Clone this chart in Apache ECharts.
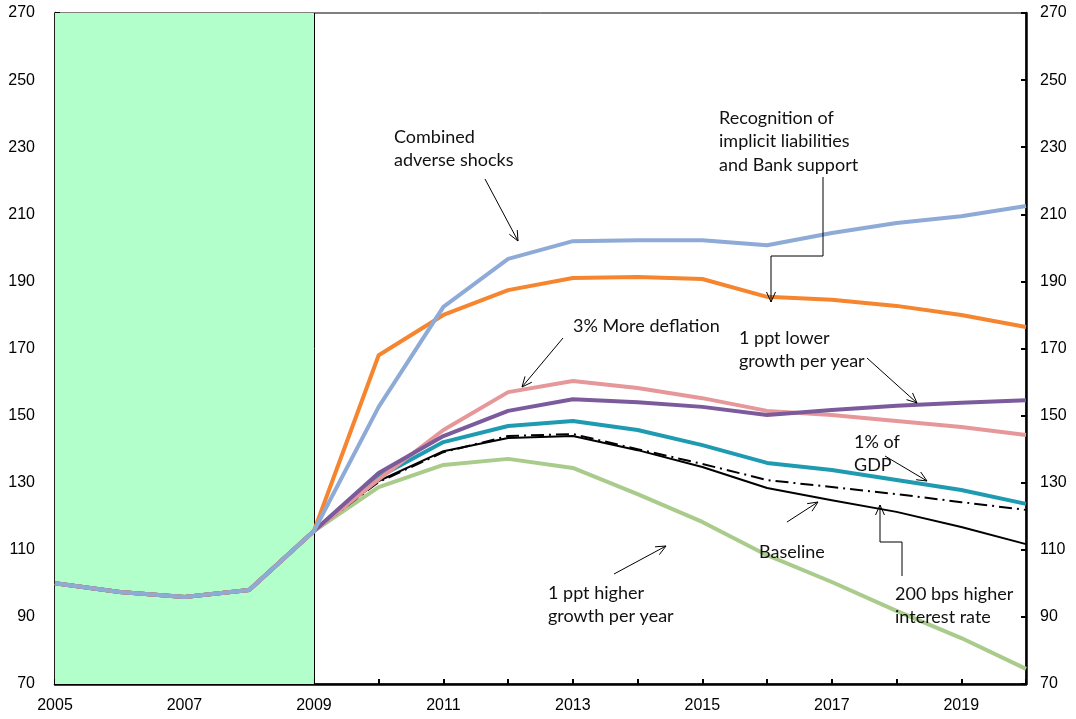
<!DOCTYPE html>
<html>
<head>
<meta charset="utf-8">
<script src="https://cdn.jsdelivr.net/npm/echarts@6/dist/echarts.min.js"></script>
<style>
html,body{margin:0;padding:0;background:#fff;}
#c{width:1076px;height:719px;}
</style>
</head>
<body>
<div id="c"></div>
<script>
// ---- data ----
const years = [2005,2006,2007,2008,2009,2010,2011,2012,2013,2014,2015,2016,2017,2018,2019,2020];
const history = [100, 97.4, 95.9, 98, 115.6];               // 2005-2009, shared by all scenarios
const combinedShocks   = [152.6,182.4,196.7,202.0,202.3,202.3,200.8,204.4,207.4,209.4,212.5];
const implicitLiab     = [168.0,180.0,187.4,191.0,191.3,190.7,185.4,184.5,182.7,180.0,176.4];
const moreDeflation    = [131.0,145.7,157.0,160.3,158.2,155.2,151.4,150.2,148.4,146.6,144.2];
const lowerGrowth      = [132.9,143.9,151.4,154.9,154.0,152.6,150.2,151.7,152.9,153.8,154.6];
const onePctGDP        = [131.7,142.1,146.9,148.4,145.7,141.2,135.9,133.8,130.8,127.8,123.7];
const baseline         = [130.5,139.4,143.3,143.9,139.7,134.7,128.4,124.8,121.3,116.8,111.7];
const higherRate       = [130.2,139.1,143.9,144.5,140.0,135.6,130.8,128.7,126.6,124.2,121.9];
const higherGrowth     = [128.7,135.3,137.1,134.4,126.6,118.3,108.4,100.4,91.8,83.7,74.5];
const yTicks = [70,90,110,130,150,170,190,210,230,250,270];
const xLabelYears = [2005,2007,2009,2011,2013,2015,2017,2019];
const shadeRange = [2005, 2009];

function pts(proj){
  const v = history.concat(proj);
  return years.map((y,i)=>[y, v[i]]);
}

const chart = echarts.init(document.getElementById('c'));
const axisFont = {fontFamily:'Liberation Sans, Arial, sans-serif', fontSize:16, color:'#000'};

function lineSeries(name, proj, color, width, type, z){
  return {
    name, type:'line', data: pts(proj), symbol:'none', z: z,
    lineStyle:{color, width, type: type || 'solid', cap:'butt', join:'round'},
    animation:false
  };
}

// annotation helpers (page-pixel layout)
const TXT = {font:'18px Lato, "Open Sans", sans-serif', fill:'#111', lineHeight:23.5};
function text(x, y, s){
  return {type:'text', x, y, z:100, style:Object.assign({text:s, verticalAlign:'top', align:'left'}, TXT)};
}
function arrow(x1,y1,x2,y2){
  const a = Math.atan2(y2-y1, x2-x1), L = 11, w = 0.42;
  const p1 = [x2 - L*Math.cos(a-w), y2 - L*Math.sin(a-w)];
  const p2 = [x2 - L*Math.cos(a+w), y2 - L*Math.sin(a+w)];
  return [
    {type:'line', z:100, shape:{x1,y1,x2,y2}, style:{stroke:'#000', lineWidth:1}},
    {type:'polyline', z:100, shape:{points:[p1,[x2,y2],p2]}, style:{stroke:'#000', lineWidth:1, fill:null}}
  ];
}
function elbow(points){
  const last = points[points.length-1], prev = points[points.length-2];
  const a = arrow(prev[0],prev[1],last[0],last[1]);
  return [{type:'polyline', z:100, shape:{points}, style:{stroke:'#000', lineWidth:1, fill:null}}, a[1]];
}

const graphics = [].concat(
  text(394,125,'Combined\nadverse shocks'),
  arrow(485,179,518,241),
  text(719,106,'Recognition of\nimplicit liabilities\nand Bank support'),
  elbow([[823,177],[823,256],[771,256],[771,302]]),
  text(573,314,'3% More deflation'),
  arrow(563,338,522,387),
  text(739,326,'1 ppt lower\ngrowth per year'),
  arrow(867,358,917,403),
  text(854,430,'1% of\nGDP'),
  arrow(885,456,927,481),
  text(759,540,'Baseline'),
  arrow(787,522,818,502),
  text(895,582,'200 bps higher\ninterest rate'),
  elbow([[902,576],[902,542],[880,542],[880,505]]),
  text(548,581,'1 ppt higher\ngrowth per year'),
  arrow(614,574,666,546)
);

function yAxis(position, margin){
  return {
    type:'value', position, min:70, max:270, interval:20,
    axisLine:{show:true, lineStyle:{color:'#000', width:2.5}},
    axisTick:{show:true, inside:true, length:5, lineStyle:{color:'#000', width:2}},
    splitLine:{show:false},
    axisLabel:Object.assign({margin, formatter:v=> yTicks.includes(v) ? String(v) : ''}, axisFont)
  };
}

chart.setOption({
  animation:false,
  backgroundColor:'#fff',
  grid:{left:55, right:50, top:13, bottom:35, show:true, borderColor:'#000', borderWidth:1, backgroundColor:'transparent'},
  xAxis:{
    type:'value', min:2005, max:2020, interval:1,
    axisLine:{show:true, onZero:false, lineStyle:{color:'#000', width:2.5}},
    axisTick:{show:true, inside:true, length:5, lineStyle:{color:'#000', width:2}},
    splitLine:{show:false},
    axisLabel:Object.assign({margin:14, showMaxLabel:true, showMinLabel:true,
      formatter:v=> xLabelYears.includes(v) ? String(v) : ''}, axisFont)
  },
  yAxis:[ yAxis('left', 20), yAxis('right', 14) ],
  series:[
    {
      type:'line', data:[], z:0, silent:true,
      markArea:{silent:true, itemStyle:{color:'#b3ffcc'}, data:[[{xAxis:shadeRange[0]},{xAxis:shadeRange[1]}]]},
      markLine:{silent:true, symbol:['none','none'], label:{show:false},
        lineStyle:{color:'#000', width:1, type:'solid'}, data:[{xAxis:shadeRange[1]}]}
    },
    lineSeries('1 ppt higher growth per year', higherGrowth, '#a9cb8b', 4, 'solid', 2),
    lineSeries('Baseline', baseline, '#000000', 2, 'solid', 3),
    lineSeries('200 bps higher interest rate', higherRate, '#000000', 2, [13,5,2,5], 4),
    lineSeries('1% of GDP', onePctGDP, '#1f9bb1', 4, 'solid', 5),
    lineSeries('3% More deflation', moreDeflation, '#e6979a', 4, 'solid', 6),
    lineSeries('1 ppt lower growth per year', lowerGrowth, '#7b5b9b', 4, 'solid', 7),
    lineSeries('Recognition of implicit liabilities and Bank support', implicitLiab, '#f5852f', 4, 'solid', 8),
    lineSeries('Combined adverse shocks', combinedShocks, '#8eaad6', 4, 'solid', 9)
  ],
  graphic: graphics
});
</script>
</body>
</html>
